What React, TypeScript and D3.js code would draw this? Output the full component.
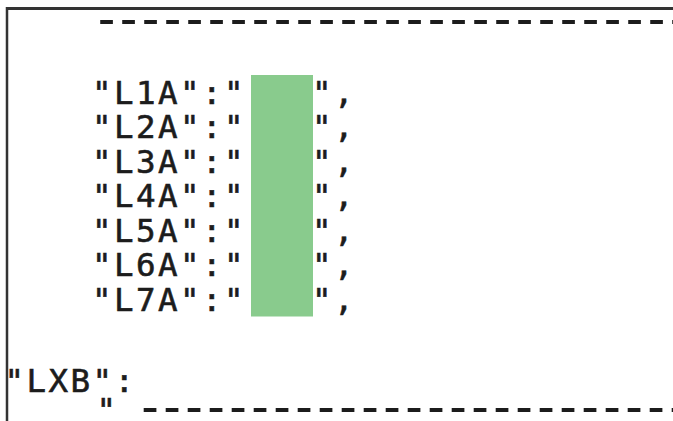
import React from "react";
import * as d3 from "d3";

// keys shown in the highlighted block
const rowKeys = ["L1A", "L2A", "L3A", "L4A", "L5A", "L6A", "L7A"];
const sectionKey = "LXB";
// value field: columns covered by the green highlight
const valueStartCol = 7;
const valueEndCol = 10;
const topRuleDashes = 28;
const bottomRuleDashes = 26;

const W = 673;
const H = 421;
const FONT = "'DejaVu Sans Mono', 'Liberation Mono', monospace";
const FS = 32.5;
const PITCH = 22;

const App = () => {
  // character grid: column index -> pixel x
  const col = d3.scaleLinear().domain([0, 1]).range([92.5, 92.5 + PITCH]);
  // one band per key row
  const row = d3.scaleBand().domain(rowKeys).range([75, 316.5]);
  const baseline = (k) => row(k) + 28.5;

  const charSpacing = PITCH - FS * 0.602;
  const dashFS = 50;
  const dashSpacing = PITCH - dashFS * 0.602;

  const textProps = {
    fontFamily: FONT,
    fontSize: FS,
    fill: "#1c1c1c",
    stroke: "#1c1c1c",
    strokeWidth: 0.6,
    letterSpacing: charSpacing,
  };

  return (
    <svg
      width={W}
      height={H}
      style={{ position: "absolute", left: 0, top: 0, background: "#fff" }}
    >
      {/* frame */}
      <line x1={6} x2={W} y1={8.5} y2={8.5} stroke="#333" strokeWidth={3} />
      <line x1={7} x2={7} y1={7} y2={H} stroke="#333" strokeWidth={2.5} />

      {/* top rule */}
      <text
        x={col(0) - 1}
        y={36}
        fontFamily={FONT}
        fontSize={dashFS}
        letterSpacing={dashSpacing}
        fill="#1c1c1c"
      >
        {"-".repeat(topRuleDashes)}
      </text>

      {/* highlight over value fields */}
      <rect
        x={col(valueStartCol) + 4.5}
        y={row(rowKeys[0])}
        width={col(valueEndCol) - col(valueStartCol) - 4}
        height={row(rowKeys[rowKeys.length - 1]) + row.bandwidth() - row(rowKeys[0])}
        fill="#89cb8d"
      />

      {rowKeys.map((k) => (
        <g key={k}>
          <text {...textProps} x={col(0) - 0.5} y={baseline(k)}>
            {`"${k}":"`}
          </text>
          <text {...textProps} x={col(valueEndCol) - 0.5} y={baseline(k)}>
            {`",`}
          </text>
        </g>
      ))}

      <text {...textProps} x={col(-4)} y={392}>
        {`"${sectionKey}":`}
      </text>
      <text {...textProps} x={col(0) + 4} y={421}>
        {`"`}
      </text>
      <text
        x={col(2) - 1.5}
        y={423.5}
        fontFamily={FONT}
        fontSize={dashFS}
        letterSpacing={dashSpacing}
        fill="#1c1c1c"
      >
        {"-".repeat(bottomRuleDashes)}
      </text>
    </svg>
  );
};

export default App;
